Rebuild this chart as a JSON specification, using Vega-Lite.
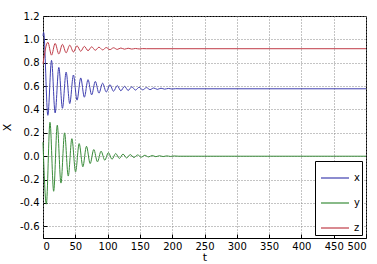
{
  "$schema": "https://vega.github.io/schema/vega-lite/v6.json",
  "width": 323,
  "height": 222,
  "autosize": {"type": "none"},
  "padding": {"left": 43, "top": 16, "right": 11, "bottom": 26},
  "background": "white",
  "config": {
    "font": "DejaVu Sans",
    "view": {"stroke": "#000", "strokeWidth": 1},
    "axis": {
      "labelFont": "DejaVu Sans", "labelFontSize": 10, "labelColor": "#000",
      "titleFont": "DejaVu Sans", "titleFontSize": 11, "titleFontWeight": "normal", "titleColor": "#000",
      "domain": false, "grid": true, "gridColor": "#888", "gridDash": [1, 2], "gridOpacity": 1,
      "tickColor": "#000", "tickSize": -4, "labelPadding": 8
    }
  },
  "data": {"values": [
    {"t": 0, "v": 1.03, "s": "x"}, {"t": 1, "v": 1.06, "s": "x"}, {"t": 7.5, "v": 0.35, "s": "x"},
    {"t": 13.2, "v": 0.82, "s": "x"}, {"t": 18.8, "v": 0.37, "s": "x"}, {"t": 24.5, "v": 0.76, "s": "x"},
    {"t": 30.1, "v": 0.41, "s": "x"}, {"t": 35.8, "v": 0.72, "s": "x"}, {"t": 41.4, "v": 0.45, "s": "x"},
    {"t": 47.1, "v": 0.695, "s": "x"}, {"t": 52.7, "v": 0.48, "s": "x"}, {"t": 58.4, "v": 0.67, "s": "x"},
    {"t": 64.0, "v": 0.505, "s": "x"}, {"t": 69.7, "v": 0.655, "s": "x"}, {"t": 75.3, "v": 0.525, "s": "x"},
    {"t": 81.0, "v": 0.64, "s": "x"}, {"t": 86.6, "v": 0.54, "s": "x"}, {"t": 92.3, "v": 0.625, "s": "x"},
    {"t": 97.9, "v": 0.55, "s": "x"}, {"t": 103.6, "v": 0.612, "s": "x"}, {"t": 109.2, "v": 0.556, "s": "x"},
    {"t": 114.9, "v": 0.604, "s": "x"}, {"t": 120.5, "v": 0.56, "s": "x"}, {"t": 126.2, "v": 0.598, "s": "x"},
    {"t": 131.8, "v": 0.563, "s": "x"}, {"t": 137.5, "v": 0.594, "s": "x"}, {"t": 143.1, "v": 0.566, "s": "x"},
    {"t": 148.8, "v": 0.59, "s": "x"}, {"t": 154.4, "v": 0.568, "s": "x"}, {"t": 160.1, "v": 0.587, "s": "x"},
    {"t": 165.7, "v": 0.57, "s": "x"}, {"t": 171.4, "v": 0.584, "s": "x"}, {"t": 177.0, "v": 0.572, "s": "x"},
    {"t": 182.7, "v": 0.582, "s": "x"}, {"t": 188.3, "v": 0.574, "s": "x"}, {"t": 194.0, "v": 0.58, "s": "x"},
    {"t": 199.6, "v": 0.575, "s": "x"}, {"t": 205.3, "v": 0.578, "s": "x"}, {"t": 212, "v": 0.577, "s": "x"},
    {"t": 500, "v": 0.577, "s": "x"},

    {"t": 0, "v": 0.12, "s": "y"}, {"t": 5.2, "v": -0.41, "s": "y"}, {"t": 10.8, "v": 0.29, "s": "y"},
    {"t": 16.5, "v": -0.3, "s": "y"}, {"t": 22.1, "v": 0.265, "s": "y"}, {"t": 27.8, "v": -0.23, "s": "y"},
    {"t": 33.4, "v": 0.2, "s": "y"}, {"t": 39.1, "v": -0.17, "s": "y"}, {"t": 44.7, "v": 0.15, "s": "y"},
    {"t": 50.4, "v": -0.134, "s": "y"}, {"t": 56.0, "v": 0.108, "s": "y"}, {"t": 61.7, "v": -0.09, "s": "y"},
    {"t": 67.3, "v": 0.085, "s": "y"}, {"t": 73.0, "v": -0.063, "s": "y"}, {"t": 78.6, "v": 0.057, "s": "y"},
    {"t": 84.3, "v": -0.048, "s": "y"}, {"t": 89.9, "v": 0.043, "s": "y"}, {"t": 95.6, "v": -0.034, "s": "y"},
    {"t": 101.2, "v": 0.03, "s": "y"}, {"t": 106.9, "v": -0.026, "s": "y"}, {"t": 112.5, "v": 0.023, "s": "y"},
    {"t": 118.2, "v": -0.019, "s": "y"}, {"t": 123.8, "v": 0.018, "s": "y"}, {"t": 129.5, "v": -0.015, "s": "y"},
    {"t": 135.1, "v": 0.014, "s": "y"}, {"t": 140.8, "v": -0.011, "s": "y"}, {"t": 146.4, "v": 0.011, "s": "y"},
    {"t": 152.1, "v": -0.008, "s": "y"}, {"t": 157.7, "v": 0.008, "s": "y"}, {"t": 163.4, "v": -0.006, "s": "y"},
    {"t": 169.0, "v": 0.006, "s": "y"}, {"t": 174.7, "v": -0.004, "s": "y"}, {"t": 180.3, "v": 0.004, "s": "y"},
    {"t": 186.0, "v": -0.003, "s": "y"}, {"t": 191.6, "v": 0.003, "s": "y"}, {"t": 197.3, "v": -0.002, "s": "y"},
    {"t": 202.9, "v": 0.002, "s": "y"}, {"t": 210, "v": 0, "s": "y"}, {"t": 500, "v": 0, "s": "y"},

    {"t": 0, "v": 0.79, "s": "z"}, {"t": 7.5, "v": 0.975, "s": "z"}, {"t": 13.2, "v": 0.865, "s": "z"},
    {"t": 18.8, "v": 0.965, "s": "z"}, {"t": 24.5, "v": 0.875, "s": "z"}, {"t": 30.1, "v": 0.957, "s": "z"},
    {"t": 35.8, "v": 0.885, "s": "z"}, {"t": 41.4, "v": 0.95, "s": "z"}, {"t": 47.1, "v": 0.892, "s": "z"},
    {"t": 52.7, "v": 0.945, "s": "z"}, {"t": 58.4, "v": 0.898, "s": "z"}, {"t": 64.0, "v": 0.94, "s": "z"},
    {"t": 69.7, "v": 0.903, "s": "z"}, {"t": 75.3, "v": 0.936, "s": "z"}, {"t": 81.0, "v": 0.907, "s": "z"},
    {"t": 86.6, "v": 0.933, "s": "z"}, {"t": 92.3, "v": 0.91, "s": "z"}, {"t": 97.9, "v": 0.93, "s": "z"},
    {"t": 103.6, "v": 0.912, "s": "z"}, {"t": 109.2, "v": 0.928, "s": "z"}, {"t": 114.9, "v": 0.914, "s": "z"},
    {"t": 120.5, "v": 0.926, "s": "z"}, {"t": 126.2, "v": 0.916, "s": "z"}, {"t": 131.8, "v": 0.924, "s": "z"},
    {"t": 137.5, "v": 0.917, "s": "z"}, {"t": 143.1, "v": 0.922, "s": "z"}, {"t": 148.8, "v": 0.918, "s": "z"},
    {"t": 154.4, "v": 0.921, "s": "z"}, {"t": 160, "v": 0.92, "s": "z"}, {"t": 500, "v": 0.92, "s": "z"}
  ]},
  "mark": {"type": "line", "interpolate": "monotone", "strokeWidth": 1},
  "encoding": {
    "x": {
      "field": "t", "type": "quantitative",
      "scale": {"domain": [0, 500], "nice": false},
      "axis": {"values": [0, 50, 100, 150, 200, 250, 300, 350, 400, 450, 500], "title": "t", "titlePadding": 0, "labelPadding": 7}
    },
    "y": {
      "field": "v", "type": "quantitative",
      "scale": {"domain": [-0.7, 1.2], "nice": false, "zero": false},
      "axis": {
        "values": [-0.6, -0.4, -0.2, 0, 0.2, 0.4, 0.6, 0.8, 1, 1.2],
        "title": "X", "titlePadding": 7,
        "labelExpr": "replace(datum.label, '\u2212', '-')"
      }
    },
    "color": {
      "field": "s", "type": "nominal",
      "scale": {"domain": ["x", "y", "z"], "range": ["#4040b0", "#3a8c3a", "#c03c48"]},
      "legend": {
        "orient": "none", "legendX": 272, "legendY": 145, "title": null,
        "symbolType": "stroke", "symbolSize": 784, "symbolStrokeWidth": 1.2, "symbolOffset": 3,
        "labelFont": "DejaVu Sans", "labelFontSize": 10, "labelColor": "#000", "labelOffset": 4,
        "fillColor": "white", "strokeColor": "#000", "padding": 2, "rowPadding": 5
      }
    }
  }
}
